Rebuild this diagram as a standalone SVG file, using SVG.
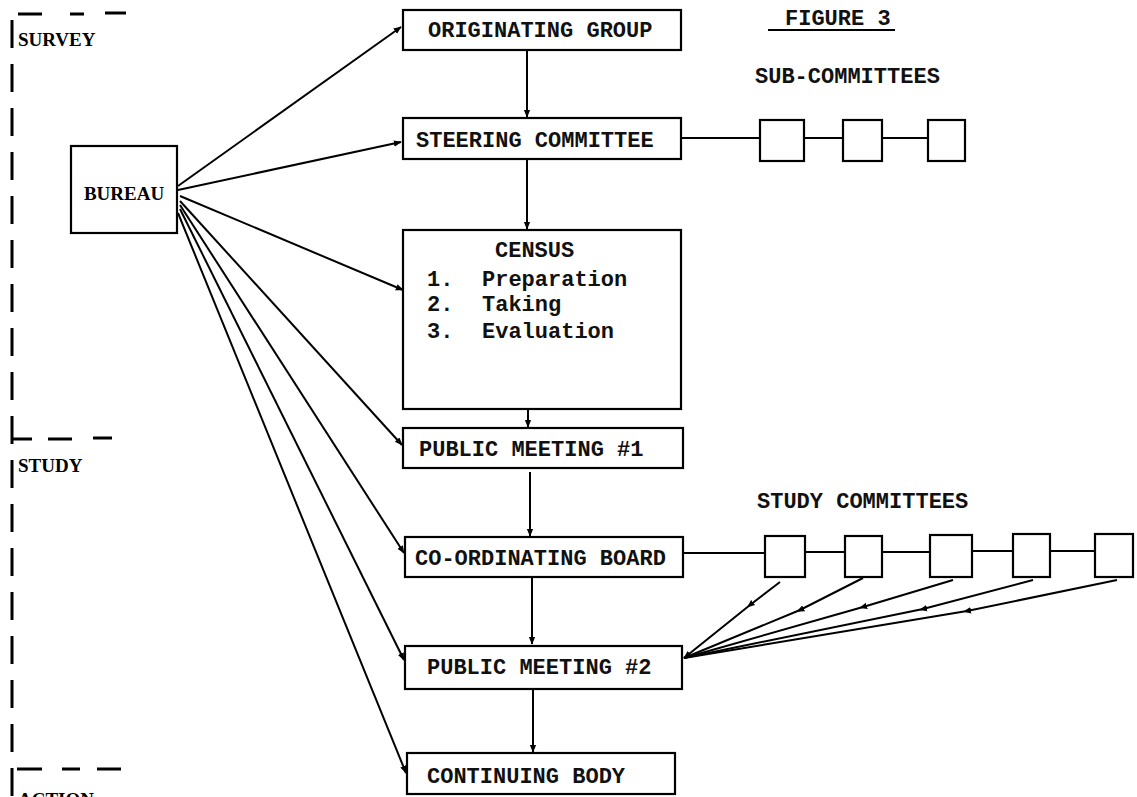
<svg xmlns="http://www.w3.org/2000/svg" width="1137" height="797" viewBox="0 0 1137 797">
<style>
.box{fill:#fff;stroke:#000;stroke-width:2.2}
.ln{fill:none;stroke:#000;stroke-width:2}
.dash{fill:none;stroke:#000;stroke-width:3}
.tw{font-family:"Liberation Mono",monospace;font-size:22px;font-weight:bold;fill:#111}
.lab{font-family:"Liberation Serif",serif;font-size:19px;font-weight:bold;fill:#000}
</style>
<defs>
<marker id="ah" viewBox="0 0 10 10" refX="9" refY="5" markerWidth="8" markerHeight="8" markerUnits="userSpaceOnUse" orient="auto"><path d="M0,1 L10,5 L0,9 z" fill="#000"/></marker>
<marker id="ahs" viewBox="0 0 10 10" refX="5" refY="5" markerWidth="8" markerHeight="8" markerUnits="userSpaceOnUse" orient="auto"><path d="M0,1 L10,5 L0,9 z" fill="#000"/></marker>
</defs>
<rect width="1137" height="797" fill="#fff"/>

<g id="phases">
<path class="dash" d="M12,20 V797" stroke-dasharray="28 16"/>
<path class="dash" d="M18,14 H42 M70,14 H84 M105,13 H126"/>
<path class="dash" d="M13,439 H32 M48,439 H72 M93,438 H112"/>
<path class="dash" d="M17,769 H42 M62,769 H80 M97,769 H121"/>
<text class="lab" x="18" y="46">SURVEY</text>
<text class="lab" x="18" y="472">STUDY</text>
<text class="lab" x="18" y="806">ACTION</text>
</g>

<g id="title">
<text class="tw" x="785" y="25">FIGURE 3</text>
<path class="ln" d="M768,30 H895"/>
<text class="tw" x="755" y="83">SUB-COMMITTEES</text>
<text class="tw" x="757" y="508">STUDY COMMITTEES</text>
</g>

<g id="connectors">
<path class="ln" d="M178,186 L401,27" marker-end="url(#ah)"/>
<path class="ln" d="M178,190 L401,142" marker-end="url(#ah)"/>
<path class="ln" d="M180,196 L403,290" marker-end="url(#ah)"/>
<path class="ln" d="M180,201 L402,445" marker-end="url(#ah)"/>
<path class="ln" d="M180,205 L404,553" marker-end="url(#ah)"/>
<path class="ln" d="M180,209 L404,660" marker-end="url(#ah)"/>
<path class="ln" d="M178,213 L406,773" marker-end="url(#ah)"/>

<path class="ln" d="M527,50 V117" marker-end="url(#ah)"/>
<path class="ln" d="M527,160 V229" marker-end="url(#ah)"/>
<path class="ln" d="M528,409 V427" marker-end="url(#ah)"/>
<path class="ln" d="M530,472 V536" marker-end="url(#ah)"/>
<path class="ln" d="M532,578 V644" marker-end="url(#ah)"/>
<path class="ln" d="M533,690 V752" marker-end="url(#ah)"/>

<path class="ln" d="M681,138 H760 M804,138 H843 M882,138 H928"/>
<path class="ln" d="M683,553 H765 M805,552 H845 M882,552 H930 M972,551 H1013 M1050,551 H1095"/>

<path class="ln" d="M780,582 L750,605 L684,658" marker-mid="url(#ahs)" marker-end="url(#ah)"/>
<path class="ln" d="M863,578 L800,610 L684,658" marker-mid="url(#ahs)"/>
<path class="ln" d="M953,580 L863,607 L684,658" marker-mid="url(#ahs)"/>
<path class="ln" d="M1033,580 L923,609 L684,658" marker-mid="url(#ahs)"/>
<path class="ln" d="M1117,580 L967,611 L684,658" marker-mid="url(#ahs)"/>
</g>

<g id="bureau">
<rect class="box" x="71" y="146" width="106" height="87"/>
<text class="lab" x="124" y="200" text-anchor="middle">BUREAU</text>
</g>

<g id="originating-group">
<rect class="box" x="403" y="10" width="278" height="40"/>
<text class="tw" x="428" y="37">ORIGINATING GROUP</text>
</g>

<g id="steering-committee">
<rect class="box" x="403" y="118" width="278" height="41"/>
<text class="tw" x="416" y="147">STEERING COMMITTEE</text>
</g>

<g id="sub-committees">
<rect class="box" x="760" y="120" width="44" height="41"/>
<rect class="box" x="843" y="120" width="39" height="41"/>
<rect class="box" x="928" y="120" width="37" height="41"/>
</g>

<g id="census">
<rect class="box" x="403" y="230" width="278" height="179"/>
<text class="tw" x="495" y="257">CENSUS</text>
<text class="tw" x="427" y="286">1.</text>
<text class="tw" x="482" y="286">Preparation</text>
<text class="tw" x="427" y="311">2.</text>
<text class="tw" x="482" y="311">Taking</text>
<text class="tw" x="427" y="338">3.</text>
<text class="tw" x="482" y="338">Evaluation</text>
</g>

<g id="public-meeting-1">
<rect class="box" x="403" y="428" width="280" height="40"/>
<text class="tw" x="419" y="456">PUBLIC MEETING #1</text>
</g>

<g id="co-ordinating-board">
<rect class="box" x="405" y="537" width="278" height="40"/>
<text class="tw" x="415" y="565">CO-ORDINATING BOARD</text>
</g>

<g id="study-committees">
<rect class="box" x="765" y="536" width="40" height="41"/>
<rect class="box" x="845" y="536" width="37" height="41"/>
<rect class="box" x="930" y="535" width="42" height="42"/>
<rect class="box" x="1013" y="534" width="37" height="43"/>
<rect class="box" x="1095" y="534" width="38" height="43"/>
</g>

<g id="public-meeting-2">
<rect class="box" x="405" y="646" width="277" height="43"/>
<text class="tw" x="427" y="674">PUBLIC MEETING #2</text>
</g>

<g id="continuing-body">
<rect class="box" x="407" y="753" width="268" height="41"/>
<text class="tw" x="427" y="783">CONTINUING BODY</text>
</g>
</svg>
